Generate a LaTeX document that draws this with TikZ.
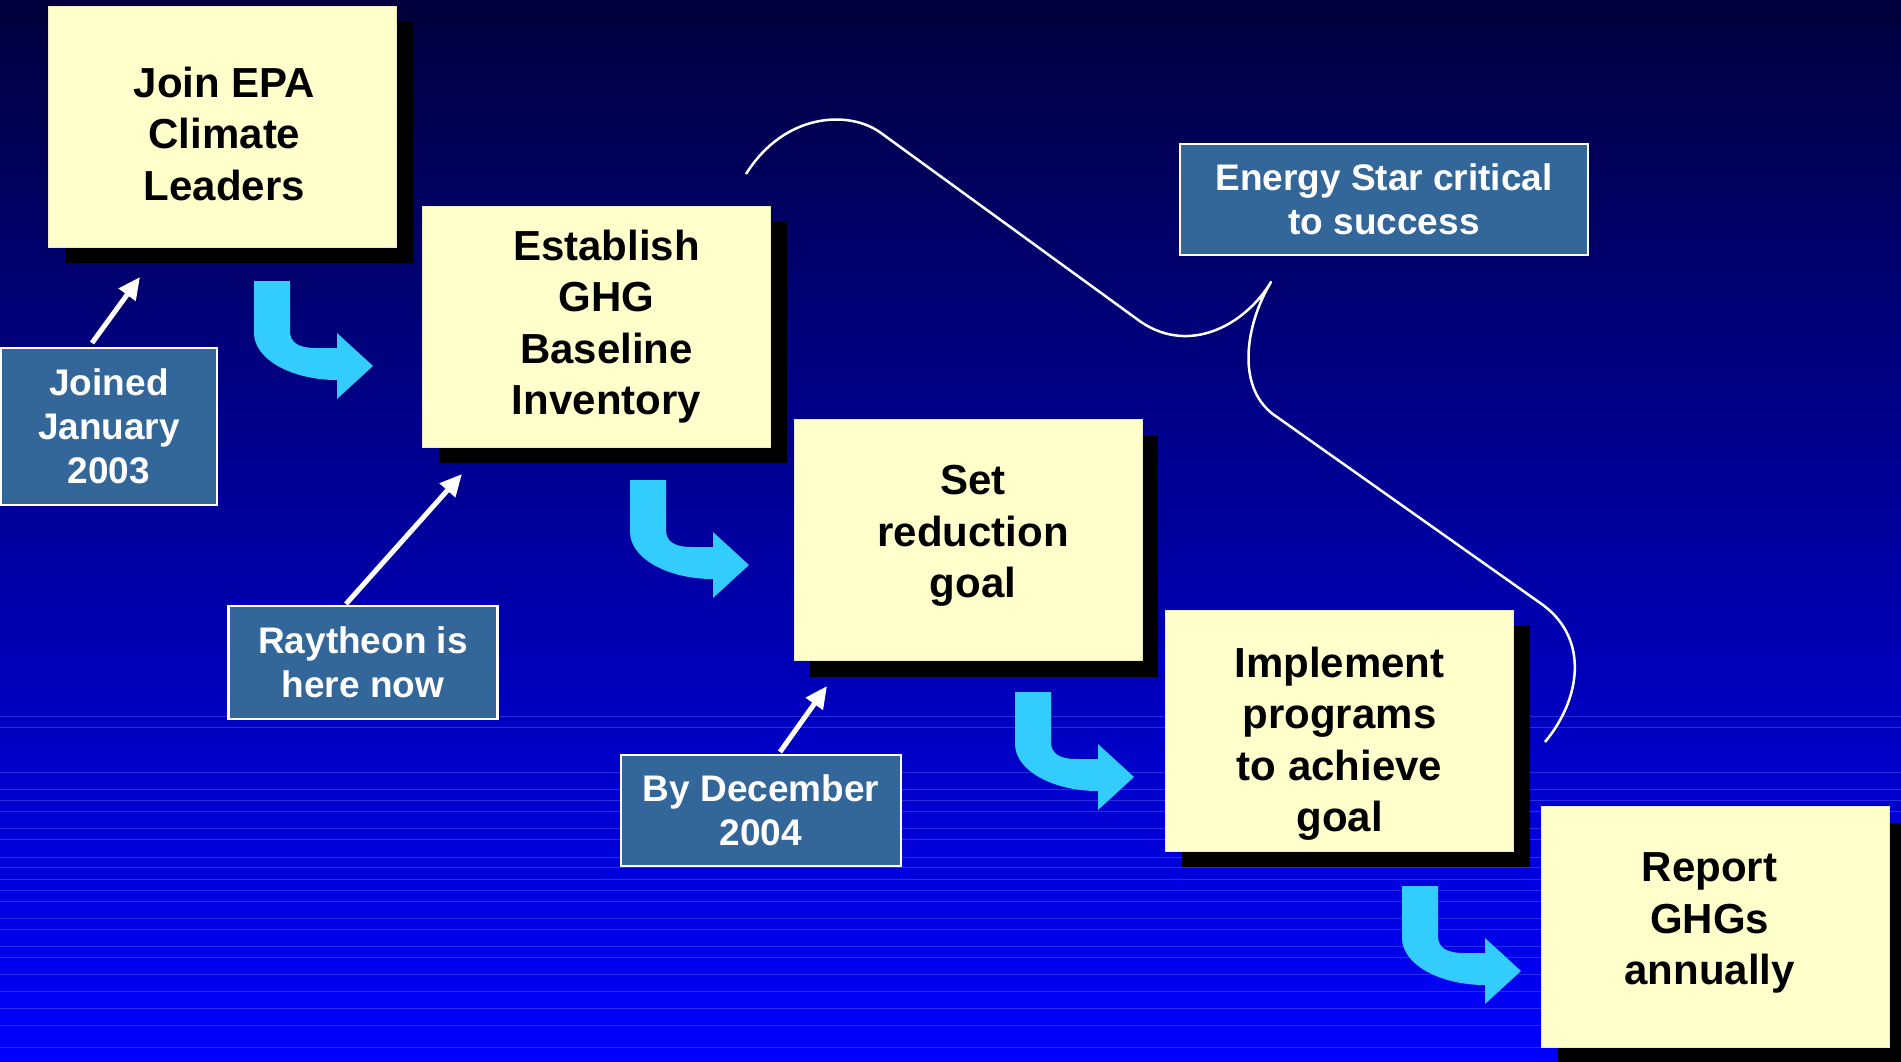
\documentclass[tikz,border=0pt]{standalone}
\usepackage{fontspec}
\setmainfont{Liberation Sans}
\usetikzlibrary{arrows.meta,shadows}
\definecolor{bgtop}{HTML}{00003C}
\definecolor{bgmid}{HTML}{0000B4}
\definecolor{bgbot}{HTML}{0000FF}
\definecolor{band}{HTML}{4A4AF0}
\definecolor{note}{HTML}{FFFFCC}
\definecolor{tag}{HTML}{336699}
\definecolor{cyanarrow}{HTML}{33CCFF}
\tikzset{
  turnarrow/.pic={\fill[cyanarrow] (0,0) -- (0,52) .. controls (0,78) and (37,99) .. (83,99) -- (83,118) -- (119,85) -- (83,52) -- (83,67) -- (62,67) .. controls (45,67) and (36,62) .. (36,50) -- (36,0) -- cycle;}
}
\begin{document}
\begin{tikzpicture}[x=1pt,y=-1pt,
  stepbox/.style={fill=note, draw=note!85!gray, line width=1pt, minimum width=348pt, minimum height=241pt, inner sep=0pt,
    drop shadow={fill=black, opacity=1, shadow xshift=16pt, shadow yshift=-16pt}},
  steptext/.style={inner sep=0pt, align=center, font=\fontsize{42}{51.5}\selectfont\bfseries, text=black},
  tagbox/.style={fill=tag, draw=white, line width=2.5pt, inner sep=0pt, align=center, font=\fontsize{37}{44}\selectfont\bfseries, text=white},
  pointer/.style={draw=white, line width=5pt, -{Triangle[length=22pt,width=20pt]}},
  brace/.style={draw=white, line width=2.5pt, line join=round},
  bandline/.style={draw=band, line width=0.8pt, opacity=0.6}
]
\useasboundingbox (0,0) rectangle (1901,1061);
\shade[top color=bgtop, middle color=bgmid, bottom color=bgbot] (0,0) rectangle (1901,1061);
\foreach \yy in {716,727,772,789,800,811,828,839,857,867,879,890,901,918,929,946,957,974,991,1008,1025,1047}
  \draw[bandline] (0,\yy) -- (1901,\yy);

% brace
\draw[brace] (746,174) .. controls (785,112) and (850,110) .. (881,133) -- (1141,322)
  .. controls (1190,355) and (1245,325) .. (1271,282)
  .. controls (1245,325) and (1235,390) .. (1277,417) -- (1543,605)
  .. controls (1590,640) and (1580,700) .. (1545,742);

% step boxes
\node[stepbox] (b1) at (222.5,126.5) {};
\node[stepbox] (b2) at (596.5,326.5) {};
\node[stepbox] (b3) at (968,540) {};
\node[stepbox] (b4) at (1339.5,730.5) {};
\node[stepbox] (b5) at (1715.5,927) {};
\node[steptext] (t1) at (224.5,133.5) {Join EPA\\Climate\\Leaders};
\node[steptext] (t2) at (606.5,326.5) {Establish\\GHG\\Baseline\\Inventory};
\node[steptext] (t3) at (973,536) {Set\\reduction\\goal};
\node[steptext] (t4) at (1339.5,743.5) {Implement\\programs\\to achieve\\goal};
\node[steptext] (t5) at (1709.5,923) {Report\\GHGs\\annually};

% turn arrows
\pic at (254,281) {turnarrow};
\pic at (630,480) {turnarrow};
\pic at (1015,692) {turnarrow};
\pic at (1402,886) {turnarrow};

% tags
\node[tagbox, minimum width=216pt, minimum height=157pt] (j) at (109,426.5) {Joined\\January\\2003};
\node[tagbox, minimum width=269pt, minimum height=113pt] (r) at (363,662.5) {Raytheon is\\here now};
\node[tagbox, minimum width=280pt, minimum height=111pt] (d) at (761,810.5) {By December\\2004};
\node[tagbox, minimum width=408pt, minimum height=111pt] (e) at (1384,199.5) {Energy Star critical\\to success};

% pointers
\coordinate (p1s) at (92,343);  \coordinate (p1e) at (140,277);
\coordinate (p2s) at (346,604); \coordinate (p2e) at (462,474);
\coordinate (p3s) at (780,752); \coordinate (p3e) at (827,686);
\draw[pointer] (p1s) -- (p1e);
\draw[pointer] (p2s) -- (p2e);
\draw[pointer] (p3s) -- (p3e);
\end{tikzpicture}
\end{document}
